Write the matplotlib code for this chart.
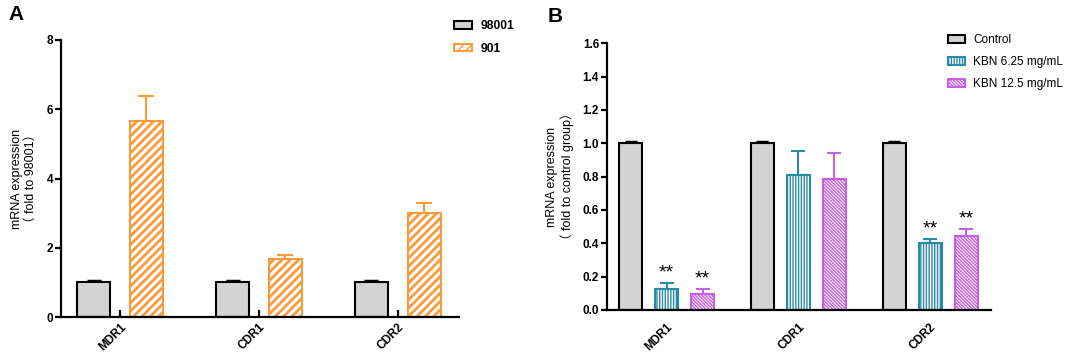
import matplotlib
matplotlib.use("Agg")
import matplotlib.pyplot as plt
import numpy as np

# ---- data ----
genes = ["MDR1", "CDR1", "CDR2"]

a_series = ["98001", "901"]
a_98001 = [1.0, 1.0, 1.0]
a_98001_err = [0.03, 0.03, 0.03]
a_901 = [5.65, 1.67, 2.99]
a_901_err = [0.74, 0.11, 0.30]

b_series = ["Control", "KBN 6.25 mg/mL", "KBN 12.5 mg/mL"]
b_control = [1.0, 1.0, 1.0]
b_control_err = [0.006, 0.006, 0.006]
b_kbn625 = [0.124, 0.812, 0.40]
b_kbn625_err = [0.036, 0.14, 0.024]
b_kbn125 = [0.094, 0.788, 0.442]
b_kbn125_err = [0.030, 0.156, 0.044]
b_stars_625 = ["**", "", "**"]
b_stars_125 = ["**", "", "**"]

FONT = ["Liberation Sans", "Noto Sans CJK SC", "DejaVu Sans"]
plt.rcParams["font.family"] = FONT

W, H = 1065, 353
fig = plt.figure(figsize=(W / 100, H / 100), dpi=100)

def px_axes(x0, y_top, x1, y_bot):
    return fig.add_axes([x0 / W, 1 - y_bot / H, (x1 - x0) / W, (y_bot - y_top) / H])

GRAY = "#d3d3d3"
ORANGE = "#fb9a3a"
TEAL = "#2a8aa3"
MAGENTA = "#c65fe0"

def style_axes(ax):
    for s in ["top", "right"]:
        ax.spines[s].set_visible(False)
    for s in ["left", "bottom"]:
        ax.spines[s].set_linewidth(1.6)
    ax.tick_params(axis="y", direction="out", length=4, width=1.6, labelsize=8.5, pad=1.5)
    for lab in ax.get_yticklabels():
        lab.set_fontweight("bold")

# ================= Panel A =================
axA = px_axes(61, 40, 459, 317)
x = np.arange(len(genes))
wA = 0.24
offA = 0.19

plt.rcParams["hatch.linewidth"] = 2.0
axA.bar(x - offA, a_98001, wA, color=GRAY, edgecolor="black", linewidth=1.5,
        label=a_series[0], zorder=2)
axA.errorbar(x - offA, a_98001, yerr=[np.zeros(3), a_98001_err], fmt="none",
             ecolor="black", elinewidth=1.5, capsize=5, capthick=2.5, zorder=1)
axA.bar(x + offA, a_901, wA, color="white", edgecolor=ORANGE, linewidth=1.5,
        hatch="////", label=a_series[1], zorder=2)
axA.errorbar(x + offA, a_901, yerr=[np.zeros(3), a_901_err], fmt="none",
             ecolor=ORANGE, elinewidth=1.5, capsize=6, capthick=1.5, zorder=1)
plt.rcParams["hatch.linewidth"] = 1.0

axA.set_xlim(-0.425, 2.44)
axA.set_ylim(0, 8)
axA.set_yticks([0, 2, 4, 6, 8])
style_axes(axA)
axA.set_xticks(x)
axA.set_xticklabels(genes, rotation=45, ha="right", rotation_mode="anchor",
                    fontsize=8.5, fontweight="bold")
axA.tick_params(axis="x", direction="in", length=5, width=1.6, pad=3)
axA.set_ylabel("mRNA expression\n（ fold to 98001）", fontsize=9, labelpad=7,
               family=FONT)
axA.legend(loc="upper left", bbox_to_anchor=(0.96, 1.11), frameon=False,
           prop={"weight": "bold", "size": 8.7}, handlelength=1.5, handleheight=0.6,
           labelspacing=0.85, handletextpad=0.7)

fig.text(8 / W, 1 - 20 / H, "A", fontsize=15, fontweight="bold")

# ================= Panel B =================
axB = px_axes(606.7, 43.3, 990.7, 310)
wB = 0.175
offB = 0.273

axB.bar(x - offB, b_control, wB, color=GRAY, edgecolor="black", linewidth=1.5,
        label=b_series[0], zorder=2)
axB.errorbar(x - offB, b_control, yerr=[np.zeros(3), b_control_err], fmt="none",
             ecolor="black", elinewidth=1.5, capsize=4, capthick=2.5, zorder=1)
axB.bar(x, b_kbn625, wB, color="white", edgecolor=TEAL, linewidth=1.5,
        hatch="||||||", label=b_series[1], zorder=2)
axB.errorbar(x, b_kbn625, yerr=[np.zeros(3), b_kbn625_err], fmt="none",
             ecolor=TEAL, elinewidth=1.5, capsize=5, capthick=1.5, zorder=1)
axB.bar(x + offB, b_kbn125, wB, color="white", edgecolor=MAGENTA, linewidth=1.5,
        hatch="\\" * 10, label=b_series[2], zorder=2)
axB.errorbar(x + offB, b_kbn125, yerr=[np.zeros(3), b_kbn125_err], fmt="none",
             ecolor=MAGENTA, elinewidth=1.5, capsize=5, capthick=1.5, zorder=1)

for i in range(3):
    if b_stars_625[i]:
        axB.annotate(b_stars_625[i], (x[i], b_kbn625[i] + b_kbn625_err[i]),
                     xytext=(0, 1), textcoords="offset points", ha="center",
                     va="bottom", fontsize=14)
    if b_stars_125[i]:
        axB.annotate(b_stars_125[i], (x[i] + offB, b_kbn125[i] + b_kbn125_err[i]),
                     xytext=(0, 1), textcoords="offset points", ha="center",
                     va="bottom", fontsize=14)

axB.set_xlim(-0.454, 2.46)
axB.set_ylim(0, 1.6)
axB.set_yticks(np.arange(0, 1.61, 0.2))
axB.set_yticklabels([f"{v:.1f}" for v in np.arange(0, 1.61, 0.2)])
style_axes(axB)
axB.set_xticks(x)
axB.set_xticklabels(genes, rotation=45, ha="right", rotation_mode="anchor",
                    fontsize=8.5, fontweight="bold")
axB.tick_params(axis="x", length=0, pad=8)
axB.set_ylabel("mRNA expression\n（ fold to control group）", fontsize=9,
               labelpad=6, family=FONT)
axB.legend(loc="upper left", bbox_to_anchor=(0.86, 1.075), frameon=False,
           prop={"size": 8.5}, handlelength=1.45, handleheight=0.6, labelspacing=0.85,
           handletextpad=0.7)

fig.text(548 / W, 1 - 22 / H, "B", fontsize=15, fontweight="bold")

fig.savefig("out.png", dpi=100)
